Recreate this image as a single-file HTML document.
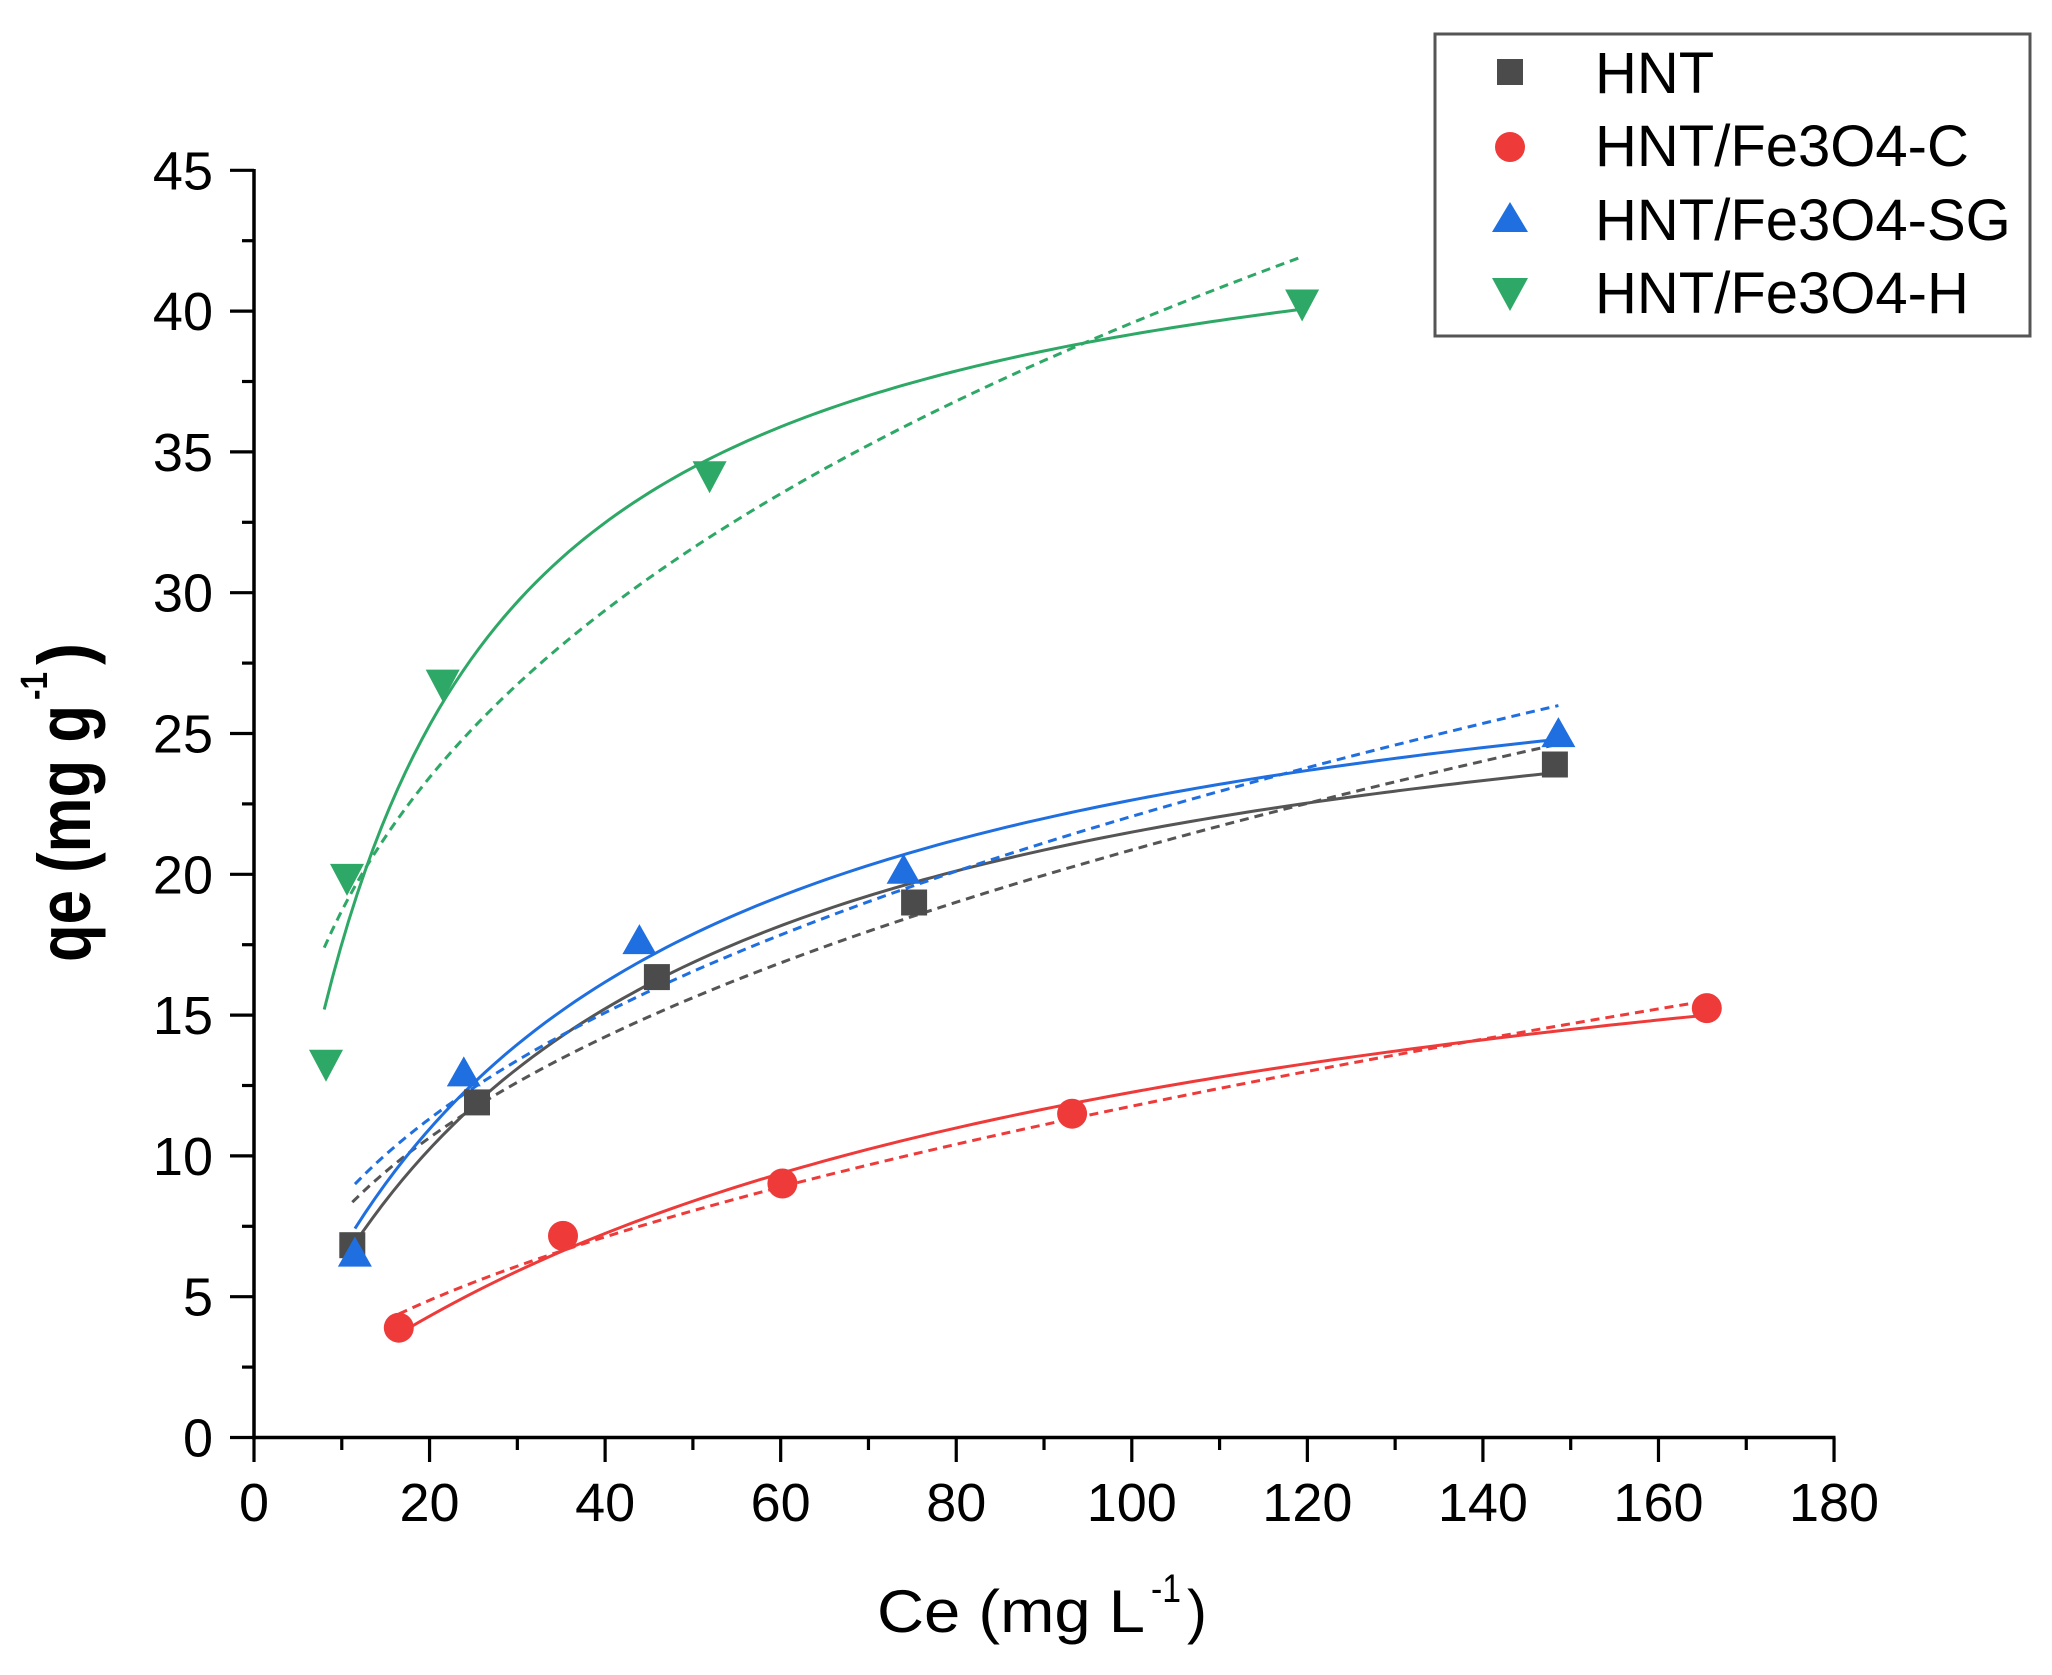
<!DOCTYPE html>
<html>
<head>
<meta charset="utf-8">
<style>
html,body{margin:0;padding:0;background:#fff;}
svg{display:block;}
text{font-family:"Liberation Sans",Arial,sans-serif;fill:#000;}
</style>
</head>
<body>
<svg id="chart" width="2052" height="1675" viewBox="0 0 2052 1675" xmlns="http://www.w3.org/2000/svg">
<rect x="0" y="0" width="2052" height="1675" fill="#fff"/>
<g id="curves" fill="none" stroke-width="3"></g>

<!-- axes -->
<g stroke="#000" stroke-width="3.5" fill="none">
  <line x1="254" y1="169" x2="254" y2="1439.5"/>
  <line x1="252.3" y1="1437.5" x2="1835.5" y2="1437.5"/>
</g>
<g id="ticks" stroke="#000" stroke-width="3.2"></g>
<g id="ticklabels" font-size="54"></g>

<!-- axis titles -->
<text x="877" y="1632" font-size="60" textLength="268" lengthAdjust="spacingAndGlyphs">Ce (mg L</text>
<text x="1151" y="1602" font-size="40" textLength="30" lengthAdjust="spacingAndGlyphs">-1</text>
<text x="1187" y="1632" font-size="60">)</text>

<text transform="translate(90,962) rotate(-90) scale(1,1.12)" font-size="66" font-weight="bold" textLength="257" lengthAdjust="spacingAndGlyphs">qe (mg g</text>
<text transform="translate(47,700) rotate(-90) scale(1,1.12)" font-size="34" font-weight="bold" textLength="28" lengthAdjust="spacingAndGlyphs">-1</text>
<text transform="translate(90,665) rotate(-90) scale(1,1.12)" font-size="66" font-weight="bold">)</text>

<!-- markers -->
<g fill="#4b4b4b">
  <rect x="339.3" y="1232.2" width="26" height="26"/>
  <rect x="464" y="1089.4" width="26" height="26"/>
  <rect x="643.9" y="964.1" width="26" height="26"/>
  <rect x="901.1" y="889.5" width="26" height="26"/>
  <rect x="1541.9" y="751.5" width="26" height="26"/>
</g>
<g fill="#ef3a3a">
  <circle cx="398.8" cy="1327.7" r="15"/>
  <circle cx="563" cy="1235.9" r="15"/>
  <circle cx="782.4" cy="1183.5" r="15"/>
  <circle cx="1072.1" cy="1113.7" r="15"/>
  <circle cx="1706.8" cy="1008.1" r="15"/>
</g>
<g fill="#1f6fe0" id="bluemk"></g>
<g fill="#2ea866" id="greenmk"></g>

<!-- legend -->
<rect x="1435" y="34" width="595" height="302" fill="#fff" stroke="#555" stroke-width="3"/>
<rect x="1497" y="59" width="26" height="26" fill="#4b4b4b"/>
<circle cx="1510" cy="147" r="15" fill="#ef3a3a"/>
<path d="M1492,232 L1528,232 L1510,202 Z" fill="#1f6fe0"/>
<path d="M1492,278 L1528,278 L1510,311 Z" fill="#2ea866"/>
<g font-size="58">
  <text x="1595" y="93">HNT</text>
  <text x="1595" y="166">HNT/Fe3O4-C</text>
  <text x="1595" y="240">HNT/Fe3O4-SG</text>
  <text x="1595" y="313">HNT/Fe3O4-H</text>
</g>
</svg>
<script>
(function(){
  var NS="http://www.w3.org/2000/svg";
  function X(c){return 254+8.778*c;}
  function Y(q){return 1437.5-28.16*q;}
  function el(tag,attrs,parent){var e=document.createElementNS(NS,tag);for(var k in attrs)e.setAttribute(k,attrs[k]);parent.appendChild(e);return e;}
  // ticks
  var tg=document.getElementById('ticks'), lg=document.getElementById('ticklabels');
  for(var i=0;i<=18;i++){
    var v=i*2.5, y=Y(v), major=(i%2===0);
    el('line',{x1:major?230:242,y1:y,x2:254,y2:y},tg);
    if(major){var t=el('text',{x:213,y:y+19,'text-anchor':'end'},lg);t.textContent=String(v);}
  }
  for(var j=0;j<=18;j++){
    var c=j*10, x=X(c), mj=(j%2===0);
    el('line',{x1:x,y1:1437.5,x2:x,y2:mj?1462:1450},tg);
    if(mj){var t2=el('text',{x:x,y:1521,'text-anchor':'middle'},lg);t2.textContent=String(c);}
  }
  // curves
  var cg=document.getElementById('curves');
  function curve(f,c0,c1,color,dashed){
    var d='',n=120;
    for(var k=0;k<=n;k++){var c=c0+(c1-c0)*k/n;d+=(k?'L':'M')+X(c).toFixed(2)+','+Y(f(c)).toFixed(2);}
    var a={d:d,stroke:color};
    if(dashed){a['stroke-dasharray']='9 6';}
    el('path',a,cg);
  }
  function lang(inv,A){return function(c){return 1/(inv+A/c);};}
  function fr(k,n){return function(c){return k*Math.pow(c,n);};}
  // gray
  curve(lang(0.03374,1.2775),11.2,148.2,'#555555',false);
  curve(fr(3.044,0.418),11.2,148.2,'#555555',true);
  // red
  curve(lang(0.04394,3.762),16.5,165.5,'#ef3a3a',false);
  curve(fr(0.945,0.5476),16.5,165.5,'#ef3a3a',true);
  // blue
  curve(lang(0.03241,1.177),11.5,148.6,'#1f6fe0',false);
  curve(fr(3.27,0.4145),11.5,148.6,'#1f6fe0',true);
  // green
  curve(function(c){var K=0.0629;return 45.4*K*c/(1+K*c);},8.0,119.4,'#2ea866',false);
  curve(fr(8.84,0.3255),8.0,119.0,'#2ea866',true);
  // triangles
  var bm=document.getElementById('bluemk');
  [[354.9,1251.6],[463.8,1071.4],[639.4,939.1],[903.6,868.7],[1558.4,732.1]].forEach(function(p){
    el('path',{d:'M'+(p[0]-17)+','+(p[1]+15)+' L'+(p[0]+17)+','+(p[1]+15)+' L'+p[0]+','+(p[1]-15)+' Z'},bm);
  });
  var gm=document.getElementById('greenmk');
  [[326,1065.8],[347,879.9],[442.7,685.6],[709.6,477.2],[1302.1,305.5]].forEach(function(p){
    el('path',{d:'M'+(p[0]-17)+','+(p[1]-16)+' L'+(p[0]+17)+','+(p[1]-16)+' L'+p[0]+','+(p[1]+16)+' Z'},gm);
  });
})();
</script>
</body>
</html>
